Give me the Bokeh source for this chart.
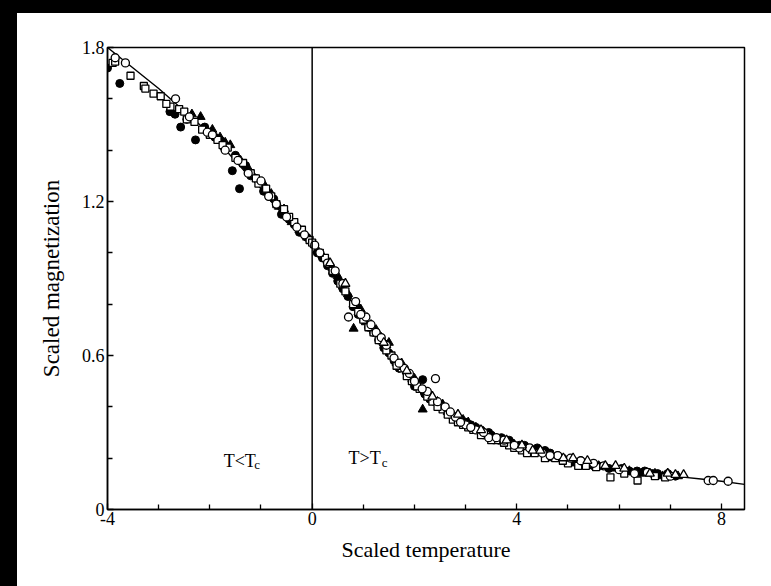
from bokeh.plotting import figure
from bokeh.models import Range1d, FixedTicker, Span, Label
from bokeh.embed import file_html
from bokeh.resources import INLINE

# ---- data ----
curve_x = [-4.0, -3.5, -3.0, -2.6, -2.2, -1.8, -1.4, -1.0, -0.6, -0.3, 0.0, 0.2, 0.4, 0.6, 0.8,
           1.0, 1.2, 1.4, 1.6, 1.8, 2.0, 2.2, 2.4, 2.6, 2.8, 3.0, 3.2, 3.4, 3.6, 3.8, 4.0,
           4.4, 4.8, 5.2, 5.6, 6.0, 6.4, 6.8, 7.2, 7.6, 8.0, 8.45]
curve_y = [1.80, 1.72, 1.64, 1.57, 1.50, 1.425, 1.335, 1.25, 1.155, 1.09, 1.03, 0.985, 0.93, 0.865, 0.80,
           0.74, 0.685, 0.63, 0.58, 0.535, 0.49, 0.45, 0.415, 0.385, 0.355, 0.335, 0.31, 0.29, 0.275, 0.26, 0.245,
           0.225, 0.20, 0.183, 0.166, 0.153, 0.143, 0.134, 0.127, 0.119, 0.11, 0.098]

filled_circle_x = [-4.0, -3.76, -2.78, -2.68, -2.57, -2.28, -2.1, -1.9, -1.72, -1.56, -1.42, -1.5, -1.3, -1.1,
                   -0.95, -0.75, -0.6, -0.45, -0.25, 0.1, 0.3, 0.5, 0.7, 0.9, 1.1, 1.3, 1.5, 1.7, 1.85, 2.0,
                   2.16, 2.3, 2.5, 2.7, 2.9, 3.1, 3.3, 3.5, 3.7, 3.9, 4.15, 4.4, 4.65, 4.9, 5.1, 5.35, 5.6,
                   6.05, 6.2, 6.5, 6.75, 6.95, 7.1,
                   -2.45, -2.0, -1.8, -1.2, -0.85, -0.35, -0.1, 0.2, 0.4, 0.6, 0.8, 1.0, 1.2, 1.4, 1.6,
                   1.95, 2.2, 2.4, 2.6, 2.8, 3.0, 3.2, 3.45, 3.65, 3.85, 4.05, 4.3, 4.55, 4.8, 5.0, 5.25,
                   5.5, 5.8, 6.35, 6.65]
filled_circle_y = [1.72, 1.66, 1.55, 1.54, 1.49, 1.44, 1.49, 1.45, 1.41, 1.32, 1.25, 1.38, 1.34, 1.29,
                   1.24, 1.21, 1.15, 1.13, 1.08, 1.00, 0.95, 0.89, 0.83, 0.76, 0.71, 0.66, 0.61, 0.55, 0.53, 0.48,
                   0.506, 0.43, 0.41, 0.37, 0.35, 0.33, 0.31, 0.29, 0.28, 0.26, 0.25, 0.24, 0.22, 0.20, 0.19, 0.18, 0.17,
                   0.16, 0.15, 0.15, 0.14, 0.14, 0.13,
                   1.52, 1.47, 1.44, 1.30, 1.23, 1.11, 1.06, 0.98, 0.92, 0.86, 0.79, 0.74, 0.69, 0.63, 0.58,
                   0.50, 0.45, 0.42, 0.39, 0.36, 0.34, 0.32, 0.30, 0.27, 0.27, 0.25, 0.23, 0.23, 0.21, 0.19, 0.19,
                   0.17, 0.16, 0.15, 0.14]

open_circle_x = [-3.65, -2.67, -2.4, -2.05, -1.7, -1.25, -0.85, -0.5, -0.15, 0.15, 0.45, 0.71, 0.85, 1.05,
                 1.25, 1.45, 1.6, 1.8, 2.0, 2.41, 2.25, 2.6, 2.8, 3.0, 3.2, 3.45, 3.75, 4.05, 4.5, 4.8,
                 5.25, 5.7, 6.3, 7.0, 7.74, 7.84, 8.13,
                 -3.85, -1.95, -1.45, -1.0, -0.7, -0.3, 0.05, 0.3, 0.6, 0.95, 1.15, 1.35, 1.7, 1.9,
                 2.15, 2.45, 2.7, 2.9, 3.1, 3.35, 3.6, 3.95, 4.25, 4.65, 5.05, 5.5, 6.0, 6.55]
open_circle_y = [1.74, 1.60, 1.53, 1.47, 1.40, 1.31, 1.22, 1.14, 1.07, 1.00, 0.93, 0.75, 0.81, 0.75,
                 0.69, 0.64, 0.59, 0.55, 0.50, 0.51, 0.46, 0.40, 0.36, 0.33, 0.31, 0.28, 0.27, 0.24, 0.22, 0.21,
                 0.19, 0.17, 0.14, 0.13, 0.113, 0.113, 0.11,
                 1.76, 1.46, 1.36, 1.28, 1.19, 1.10, 1.03, 0.96, 0.88, 0.76, 0.72, 0.67, 0.57, 0.53,
                 0.47, 0.42, 0.38, 0.34, 0.32, 0.30, 0.28, 0.25, 0.24, 0.21, 0.20, 0.18, 0.155, 0.145]

open_square_x = [-3.9, -3.85, -3.55, -3.29, -3.26, -3.1, -2.96, -2.77, -2.6, -2.45, -2.3, -2.15, -2.0, -1.85,
                 -1.65, -1.5, -1.35, -1.2, -1.05, -0.9, -0.7, -0.55, -0.35, -0.2, -0.05, 0.25, 0.55, 0.8,
                 1.0, 1.2, 1.55, 1.75, 1.95, 2.1, 2.35, 2.55, 2.75, 2.95, 3.15, 3.4, 3.6, 3.85, 4.1, 4.35,
                 4.75, 5.0, 5.2, 5.55, 5.83, 6.36, 6.7,
                 -2.85, -2.5, -1.75, -1.1, -0.8, -0.45, 0.0, 0.15, 0.4, 0.65, 0.9, 1.1, 1.3, 1.45, 1.65,
                 1.85, 2.05, 2.25, 2.45, 2.65, 2.85, 3.05, 3.3, 3.5, 3.75, 3.95, 4.2, 4.55, 4.9, 5.35,
                 6.1, 6.9]
open_square_y = [1.74, 1.745, 1.69, 1.65, 1.64, 1.62, 1.61, 1.57, 1.56, 1.52, 1.51, 1.48, 1.46, 1.44,
                 1.41, 1.37, 1.35, 1.31, 1.27, 1.25, 1.19, 1.17, 1.12, 1.09, 1.05, 0.98, 0.88, 0.80,
                 0.74, 0.69, 0.60, 0.55, 0.50, 0.47, 0.42, 0.39, 0.35, 0.33, 0.31, 0.29, 0.27, 0.25, 0.23, 0.22,
                 0.20, 0.18, 0.17, 0.165, 0.125, 0.113, 0.13,
                 1.58, 1.55, 1.42, 1.29, 1.22, 1.14, 1.04, 1.00, 0.93, 0.85, 0.77, 0.71, 0.66, 0.62, 0.56,
                 0.52, 0.48, 0.44, 0.40, 0.37, 0.34, 0.32, 0.29, 0.27, 0.26, 0.24, 0.22, 0.20, 0.19, 0.17,
                 0.14, 0.125]

filled_tri_x = [-2.18, -1.95, -1.8, -1.6, -1.4, -1.15, -0.8, -0.65, -0.4, -0.1, 0.05, 0.2, 0.4, 0.6,
                0.81, 0.95, 1.15, 1.35, 1.5, 1.65, 1.9, 2.16, 2.2, 2.45, 2.65, 3.05, 3.35, 3.55, 4.0,
                4.25, 4.6, 5.15, 5.45, 5.9, 6.45, 6.85, 7.15,
                -2.35, -1.7, -1.25, -0.95, -0.55, -0.25, 0.1, 0.3, 0.5, 0.7, 0.9, 1.05, 1.25, 1.45,
                1.75, 2.0, 2.3, 2.55, 2.75, 2.95, 3.2, 3.45, 3.75, 4.4, 4.85, 5.6, 6.2, 6.7, 7.0]
filled_tri_y = [1.53, 1.48, 1.45, 1.42, 1.36, 1.30, 1.23, 1.18, 1.12, 1.06, 1.03, 0.99, 0.94, 0.87,
                0.705, 0.78, 0.72, 0.67, 0.65, 0.57, 0.52, 0.39, 0.46, 0.42, 0.38, 0.34, 0.30, 0.28, 0.24,
                0.22, 0.20, 0.18, 0.17, 0.16, 0.14, 0.13, 0.13,
                1.54, 1.43, 1.33, 1.27, 1.17, 1.09, 1.01, 0.97, 0.91, 0.84, 0.79, 0.73, 0.70, 0.64,
                0.57, 0.51, 0.45, 0.41, 0.37, 0.35, 0.32, 0.29, 0.27, 0.23, 0.20, 0.17, 0.15, 0.14, 0.13]

open_tri_x = [0.35, 0.65, 1.4, 2.85, 3.8, 4.31, 4.46, 4.91, 5.38, 5.73, 5.93, 6.1, 6.6, 7.26,
              1.85, 2.35, 3.3, 4.1, 5.1, 6.95, 7.1]
open_tri_y = [0.96, 0.88, 0.65, 0.37, 0.27, 0.23, 0.23, 0.20, 0.19, 0.17, 0.17, 0.16, 0.14, 0.135,
              0.54, 0.44, 0.31, 0.25, 0.20, 0.14, 0.135]

x_major = [-4, 0, 4, 8]
x_labels = ["-4", "0", "4", "8"]
x_minor = [-3, -2, -1, 1, 2, 3, 5, 6, 7]
y_major = [0, 0.6, 1.2, 1.8]
y_labels = ["0", "0.6", "1.2", "1.8"]
y_minor = [0.2, 0.4, 0.8, 1.0, 1.4, 1.6]

FONT = "Liberation Serif"

# host background supplies the black scan margins (top and left); canvas border is transparent
page_bg = ("linear-gradient(to right, #000 0px, #000 17px, transparent 17px), "
           "linear-gradient(to bottom, #000 0px, #000 13px, #fff 13px)")

p = figure(width=771, height=586, output_backend="svg", toolbar_location=None,
           x_range=Range1d(-4, 8.45), y_range=Range1d(0, 1.8),
           min_border_left=107, min_border_right=27, min_border_top=47, min_border_bottom=77,
           styles={"background": page_bg})
p.background_fill_color = "white"
p.border_fill_color = None
p.grid.visible = False
p.outline_line_color = "black"
p.outline_line_width = 1.5

p.xaxis.ticker = FixedTicker(ticks=x_major, minor_ticks=x_minor)
p.yaxis.ticker = FixedTicker(ticks=y_major, minor_ticks=y_minor)
p.xaxis.major_label_overrides = dict(zip(x_major, x_labels))
p.yaxis.major_label_overrides = dict(zip(y_major, y_labels))
for ax in (p.xaxis, p.yaxis):
    ax.axis_line_color = "black"
    ax.axis_line_width = 1.5
    ax.major_tick_in = 6
    ax.major_tick_out = 0
    ax.minor_tick_in = 5
    ax.minor_tick_out = 0
    ax.major_tick_line_color = "black"
    ax.minor_tick_line_color = "black"
    ax.major_tick_line_width = 1.3
    ax.minor_tick_line_width = 1.3
    ax.major_label_text_font = FONT
    ax.major_label_text_font_size = "18px"
    ax.major_label_text_color = "black"
    ax.axis_label_text_font = FONT
    ax.axis_label_text_font_style = "normal"
    ax.axis_label_text_color = "black"

p.xaxis.axis_label = "Scaled temperature"
p.yaxis.axis_label = "Scaled magnetization"
p.xaxis.axis_label_text_font_size = "22px"
p.yaxis.axis_label_text_font_size = "23px"
p.xaxis.major_label_standoff = 2
p.xaxis.axis_label_standoff = 9
p.yaxis.major_label_standoff = 3
p.yaxis.axis_label_standoff = 15

p.add_layout(Span(location=0, dimension="height", line_color="black", line_width=1.5))

p.line(curve_x, curve_y, line_color="black", line_width=1.4)

p.scatter(filled_circle_x, filled_circle_y, marker="circle", size=8,
          fill_color="black", line_color="black")
p.scatter(filled_tri_x, filled_tri_y, marker="triangle", size=9,
          fill_color="black", line_color="black")
p.scatter(open_square_x, open_square_y, marker="square", size=7,
          fill_color="white", line_color="black", line_width=1.3)
p.scatter(open_circle_x, open_circle_y, marker="circle", size=8,
          fill_color="white", line_color="black", line_width=1.3)
p.scatter(open_tri_x, open_tri_y, marker="triangle", size=9,
          fill_color="white", line_color="black", line_width=1.3)

def add_text(x, y, t, size):
    p.add_layout(Label(x=x, y=y, text=t, text_font=FONT, text_font_size=size,
                       text_color="black", text_align="left", text_baseline="alphabetic"))

add_text(-1.73, 0.19, "T<T", "18px")
add_text(-1.13, 0.175, "c", "13px")
add_text(0.71, 0.199, "T>T", "18px")
add_text(1.36, 0.183, "c", "13px")

open("out.html", "w").write(file_html(p, INLINE))
